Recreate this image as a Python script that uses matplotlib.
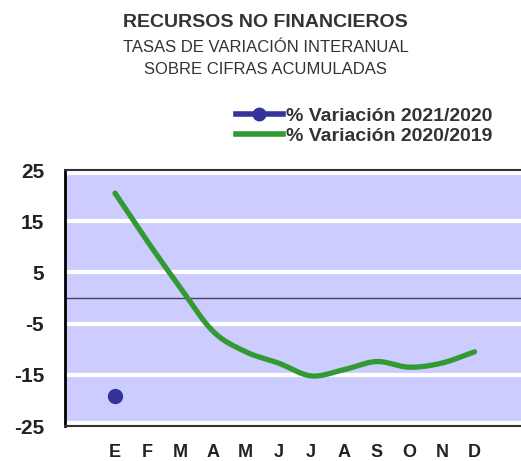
import numpy as np
import matplotlib.pyplot as plt
from matplotlib.lines import Line2D

# Data
months = ["E", "F", "M", "A", "M", "J", "J", "A", "S", "O", "N", "D"]
var_2020_2019 = [20.5, 11.0, 2.0, -6.5, -10.5, -12.7, -15.2, -14.0, -12.4, -13.5, -12.7, -10.5]
var_2021_2020 = [-19.1]
yticks = [25, 15, 5, -5, -15, -25]

green = "#339933"
blue = "#333399"
bg = "#CCCCFF"
font = "Liberation Sans"


# Smooth curve through the points (Catmull-Rom), like Excel's smoothed line
def smooth(x, y, n=20):
    x = np.asarray(x, float)
    y = np.asarray(y, float)
    px = np.concatenate([[2 * x[0] - x[1]], x, [2 * x[-1] - x[-2]]])
    py = np.concatenate([[2 * y[0] - y[1]], y, [2 * y[-1] - y[-2]]])
    xs, ys = [], []
    t = np.linspace(0, 1, n, endpoint=False)
    for i in range(1, len(px) - 2):
        for p, out in ((px, xs), (py, ys)):
            p0, p1, p2, p3 = p[i - 1], p[i], p[i + 1], p[i + 2]
            out.extend(0.5 * (2 * p1 + (-p0 + p2) * t
                              + (2 * p0 - 5 * p1 + 4 * p2 - p3) * t ** 2
                              + (-p0 + 3 * p1 - 3 * p2 + p3) * t ** 3))
    xs.append(x[-1])
    ys.append(y[-1])
    return np.array(xs), np.array(ys)


fig = plt.figure(figsize=(5.21, 4.61), dpi=100)
ax = fig.add_axes([0.1248, 0.0759, 0.8752, 0.555])
ax.set_facecolor(bg)

x = np.arange(len(months))
sx, sy = smooth(x, var_2020_2019)
ax.plot(sx, sy, color=green, linewidth=3.8, solid_capstyle="round", zorder=3)
ax.plot(x[:len(var_2021_2020)], var_2021_2020, "o", color=blue, markersize=10, zorder=4)

ax.set_xlim(-1.53, 12.42)
ax.set_ylim(-25, 25)
ax.set_yticks(yticks)
ax.set_yticklabels([str(v) for v in yticks], fontsize=15, fontweight="bold",
                   color="#222222", family=font)
ax.set_xticks(x)
ax.set_xticklabels(months, fontsize=13, fontweight="bold", color="#222222", family=font)
ax.tick_params(length=0)
ax.tick_params(axis="y", pad=15)
ax.tick_params(axis="x", pad=13)

for v in [15, 5, -5, -15, -24.4, 24.4]:
    ax.axhline(v, color="white", linewidth=3, zorder=1)
ax.axhline(0, color="#444455", linewidth=1, zorder=2)

ax.spines["left"].set_linewidth(2)
ax.spines["left"].set_color("black")
ax.spines["top"].set_linewidth(1.5)
ax.spines["top"].set_color("#333333")
ax.spines["bottom"].set_linewidth(1.5)
ax.spines["bottom"].set_color("#333333")
ax.spines["right"].set_visible(False)

fig.text(0.51, 0.952, "RECURSOS NO FINANCIEROS", ha="center", va="center",
         fontsize=14, fontweight="bold", color="#333333", family=font)
fig.text(0.51, 0.896, "TASAS DE VARIACIÓN INTERANUAL", ha="center", va="center",
         fontsize=12, color="#333333", family=font)
fig.text(0.51, 0.849, "SOBRE CIFRAS ACUMULADAS", ha="center", va="center",
         fontsize=12, color="#333333", family=font)

handles = [
    Line2D([], [], color=blue, linewidth=4, marker="o", markersize=9),
    Line2D([], [], color=green, linewidth=4),
]
fig.legend(handles, ["% Variación 2021/2020", "% Variación 2020/2019"],
           loc="upper right", bbox_to_anchor=(0.978, 0.805), frameon=False,
           handlelength=2.4, handletextpad=0.15, labelspacing=0.12,
           prop={"weight": "bold", "size": 14, "family": font}, labelcolor="#333333")

fig.savefig("out.png", dpi=100)
